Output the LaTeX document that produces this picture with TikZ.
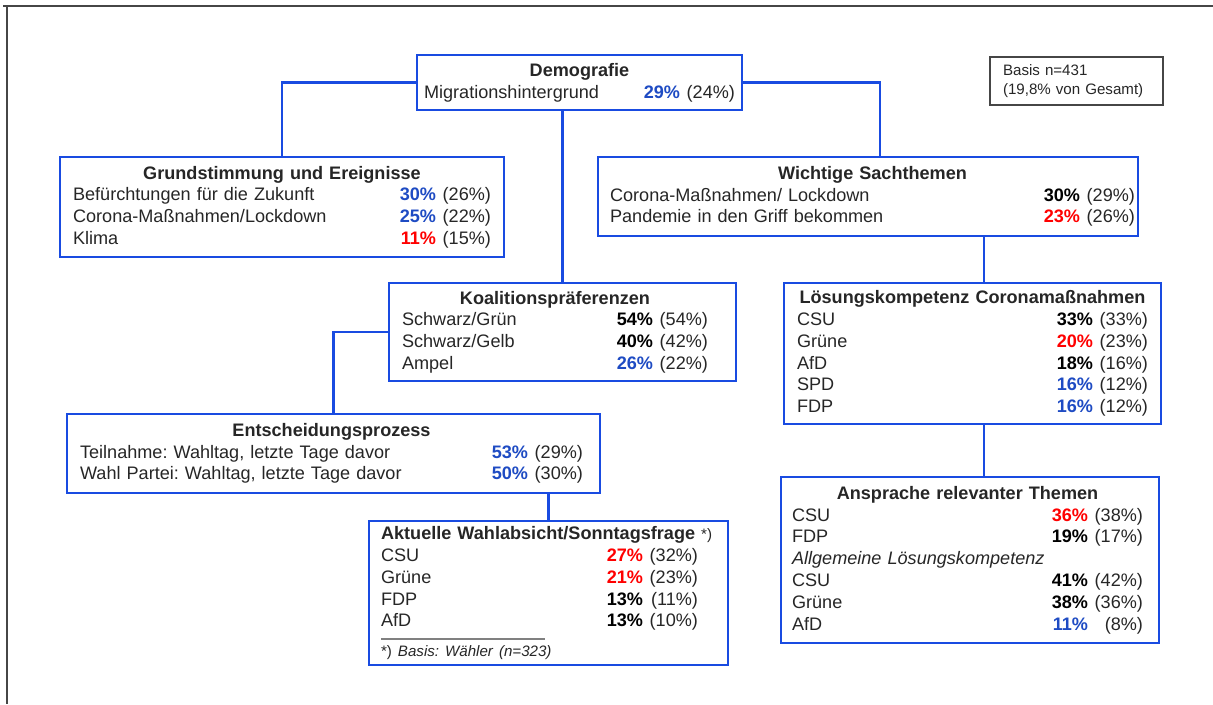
\documentclass[tikz,border=0pt]{standalone}
\usepackage{fontspec}
\setmainfont{Liberation Sans}
\frenchspacing
\definecolor{boxblue}{RGB}{25,75,225}
\definecolor{pctblue}{RGB}{30,75,195}
\definecolor{pctred}{RGB}{255,0,0}
\definecolor{framegray}{RGB}{70,70,70}
\newlength{\rowpad}
\newcommand{\boxhead}[1]{\hfill\textbf{#1}\hfill\kern\rowpad}
\newcommand{\rowval}[4]{#1\hfill\textcolor{#2}{\textbf{#3\%}} \makebox[2.7em][r]{(#4\%)}\kern\rowpad}
\tikzset{
    infobox/.style={rectangle, draw=boxblue, line width=1.6pt, align=left, inner ysep=0pt,
        text=black!85, font=\fontsize{10.3}{12.4}\selectfont}
}
\tikzset{rightpad/.style={execute at begin node={\setlength{\rowpad}{#1}}}}
\tikzset{link/.style={draw=boxblue, line width=1.4pt}}

\begin{document}
\begin{tikzpicture}[x=0.02cm, y=-0.02cm]
  \useasboundingbox (0,0) rectangle (1213,704);
  \draw[framegray, line width=1.2pt] (3,6) -- (1213,6);
  \draw[framegray, line width=1.2pt] (7,6) -- (7,704);

  \node (demo) [infobox, minimum width=6.5cm, minimum height=1.1cm, inner xsep=0.14cm, text width=6.22cm] at (579.5,82.5)
    {\boxhead{Demografie}\\ \rowval{Migrationshintergrund}{pctblue}{29}{24}};
  \node (basis) [rectangle, draw=framegray, line width=0.7pt, align=left, inner xsep=0.26cm, text width=2.94cm,
    minimum height=0.96cm, text=black!85, font=\fontsize{8.6}{10.4}\selectfont] at (1076.5,81)
    {Basis n=431\\(19,8\% von Gesamt)};

  \node (grund) [infobox, minimum width=8.88cm, minimum height=2cm, inner xsep=0.26cm, text width=8.36cm] at (282,207)
    {\boxhead{Grundstimmung und Ereignisse}\\
     \rowval{Befürchtungen für die Zukunft}{pctblue}{30}{26}\\
     \rowval{Corona-Maßnahmen/Lockdown}{pctblue}{25}{22}\\
     \rowval{Klima}{pctred}{11}{15}};
  \node (sach) [infobox, rightpad=-0.18cm, minimum width=10.8cm, minimum height=1.58cm, inner xsep=0.24cm, text width=10.32cm] at (868,196.5)
    {\boxhead{Wichtige Sachthemen}\\
     \rowval{Corona-Maßnahmen/ Lockdown}{black}{30}{29}\\
     \rowval{Pandemie in den Griff bekommen}{pctred}{23}{26}};
  \node (koal) [infobox, rightpad=0.3cm, minimum width=6.94cm, minimum height=1.96cm, inner xsep=0.26cm, text width=6.42cm] at (562.5,332)
    {\boxhead{Koalitionspräferenzen}\\
     \rowval{Schwarz/Grün}{black}{54}{54}\\
     \rowval{Schwarz/Gelb}{black}{40}{42}\\
     \rowval{Ampel}{pctblue}{26}{22}};
  \node (loes) [infobox, minimum width=7.54cm, minimum height=2.82cm, inner xsep=0.26cm, text width=7.02cm] at (972.5,353.5)
    {\boxhead{Lösungskompetenz Coronamaßnahmen}\\
     \rowval{CSU}{black}{33}{33}\\
     \rowval{Grüne}{pctred}{20}{23}\\
     \rowval{AfD}{black}{18}{16}\\
     \rowval{SPD}{pctblue}{16}{12}\\
     \rowval{FDP}{pctblue}{16}{12}};
  \node (entsch) [infobox, rightpad=0.08cm, minimum width=10.66cm, minimum height=1.58cm, inner xsep=0.26cm, text width=10.14cm] at (333.5,453.5)
    {\boxhead{Entscheidungsprozess}\\
     \rowval{Teilnahme: Wahltag, letzte Tage davor}{pctblue}{53}{29}\\
     \rowval{Wahl Partei: Wahltag, letzte Tage davor}{pctblue}{50}{30}};
  \node (aktu) [infobox, rightpad=0.36cm, minimum width=7.18cm, minimum height=2.88cm, inner xsep=0.24cm, text width=6.7cm] at (548.5,593)
    {\textbf{Aktuelle Wahlabsicht/Sonntagsfrage} {\fontsize{8.6}{10}\selectfont *)}\\
     \rowval{CSU}{pctred}{27}{32}\\
     \rowval{Grüne}{pctred}{21}{23}\\
     \rowval{FDP}{black}{13}{11}\\
     \rowval{AfD}{black}{13}{10}\\[-5pt]
     \textcolor{gray}{\rule{3.28cm}{0.8pt}}\\[-3pt]
     {\fontsize{8.6}{10}\selectfont *) \textit{Basis: Wähler (n=323)}}};
  \node (anspr) [infobox, rightpad=0.1cm, minimum width=7.56cm, minimum height=3.32cm, inner xsep=0.22cm, text width=7.12cm] at (970,560)
    {\boxhead{Ansprache relevanter Themen}\\
     \rowval{CSU}{pctred}{36}{38}\\
     \rowval{FDP}{black}{19}{17}\\
     \textit{Allgemeine Lösungskompetenz}\\
     \rowval{CSU}{black}{41}{42}\\
     \rowval{Grüne}{black}{38}{36}\\
     \rowval{AfD}{pctblue}{11}{8}};

  \draw[link] (demo.west) -| (grund.north);
  \draw[link] (demo.east) -| ([xshift=0.24cm]sach.north);
  \draw[link] (demo.south -| koal.north) -- (koal.north);
  \draw[link] (koal.west) -| (entsch.north);
  \draw[link] (entsch.south -| aktu.north) -- (aktu.north);
  \draw[link] ([xshift=0.23cm]sach.south -| loes.north) -- ([xshift=0.23cm]loes.north);
  \draw[link] ([xshift=0.23cm]loes.south) -- ([xshift=0.23cm]loes.south |- anspr.north);
\end{tikzpicture}
\end{document}
